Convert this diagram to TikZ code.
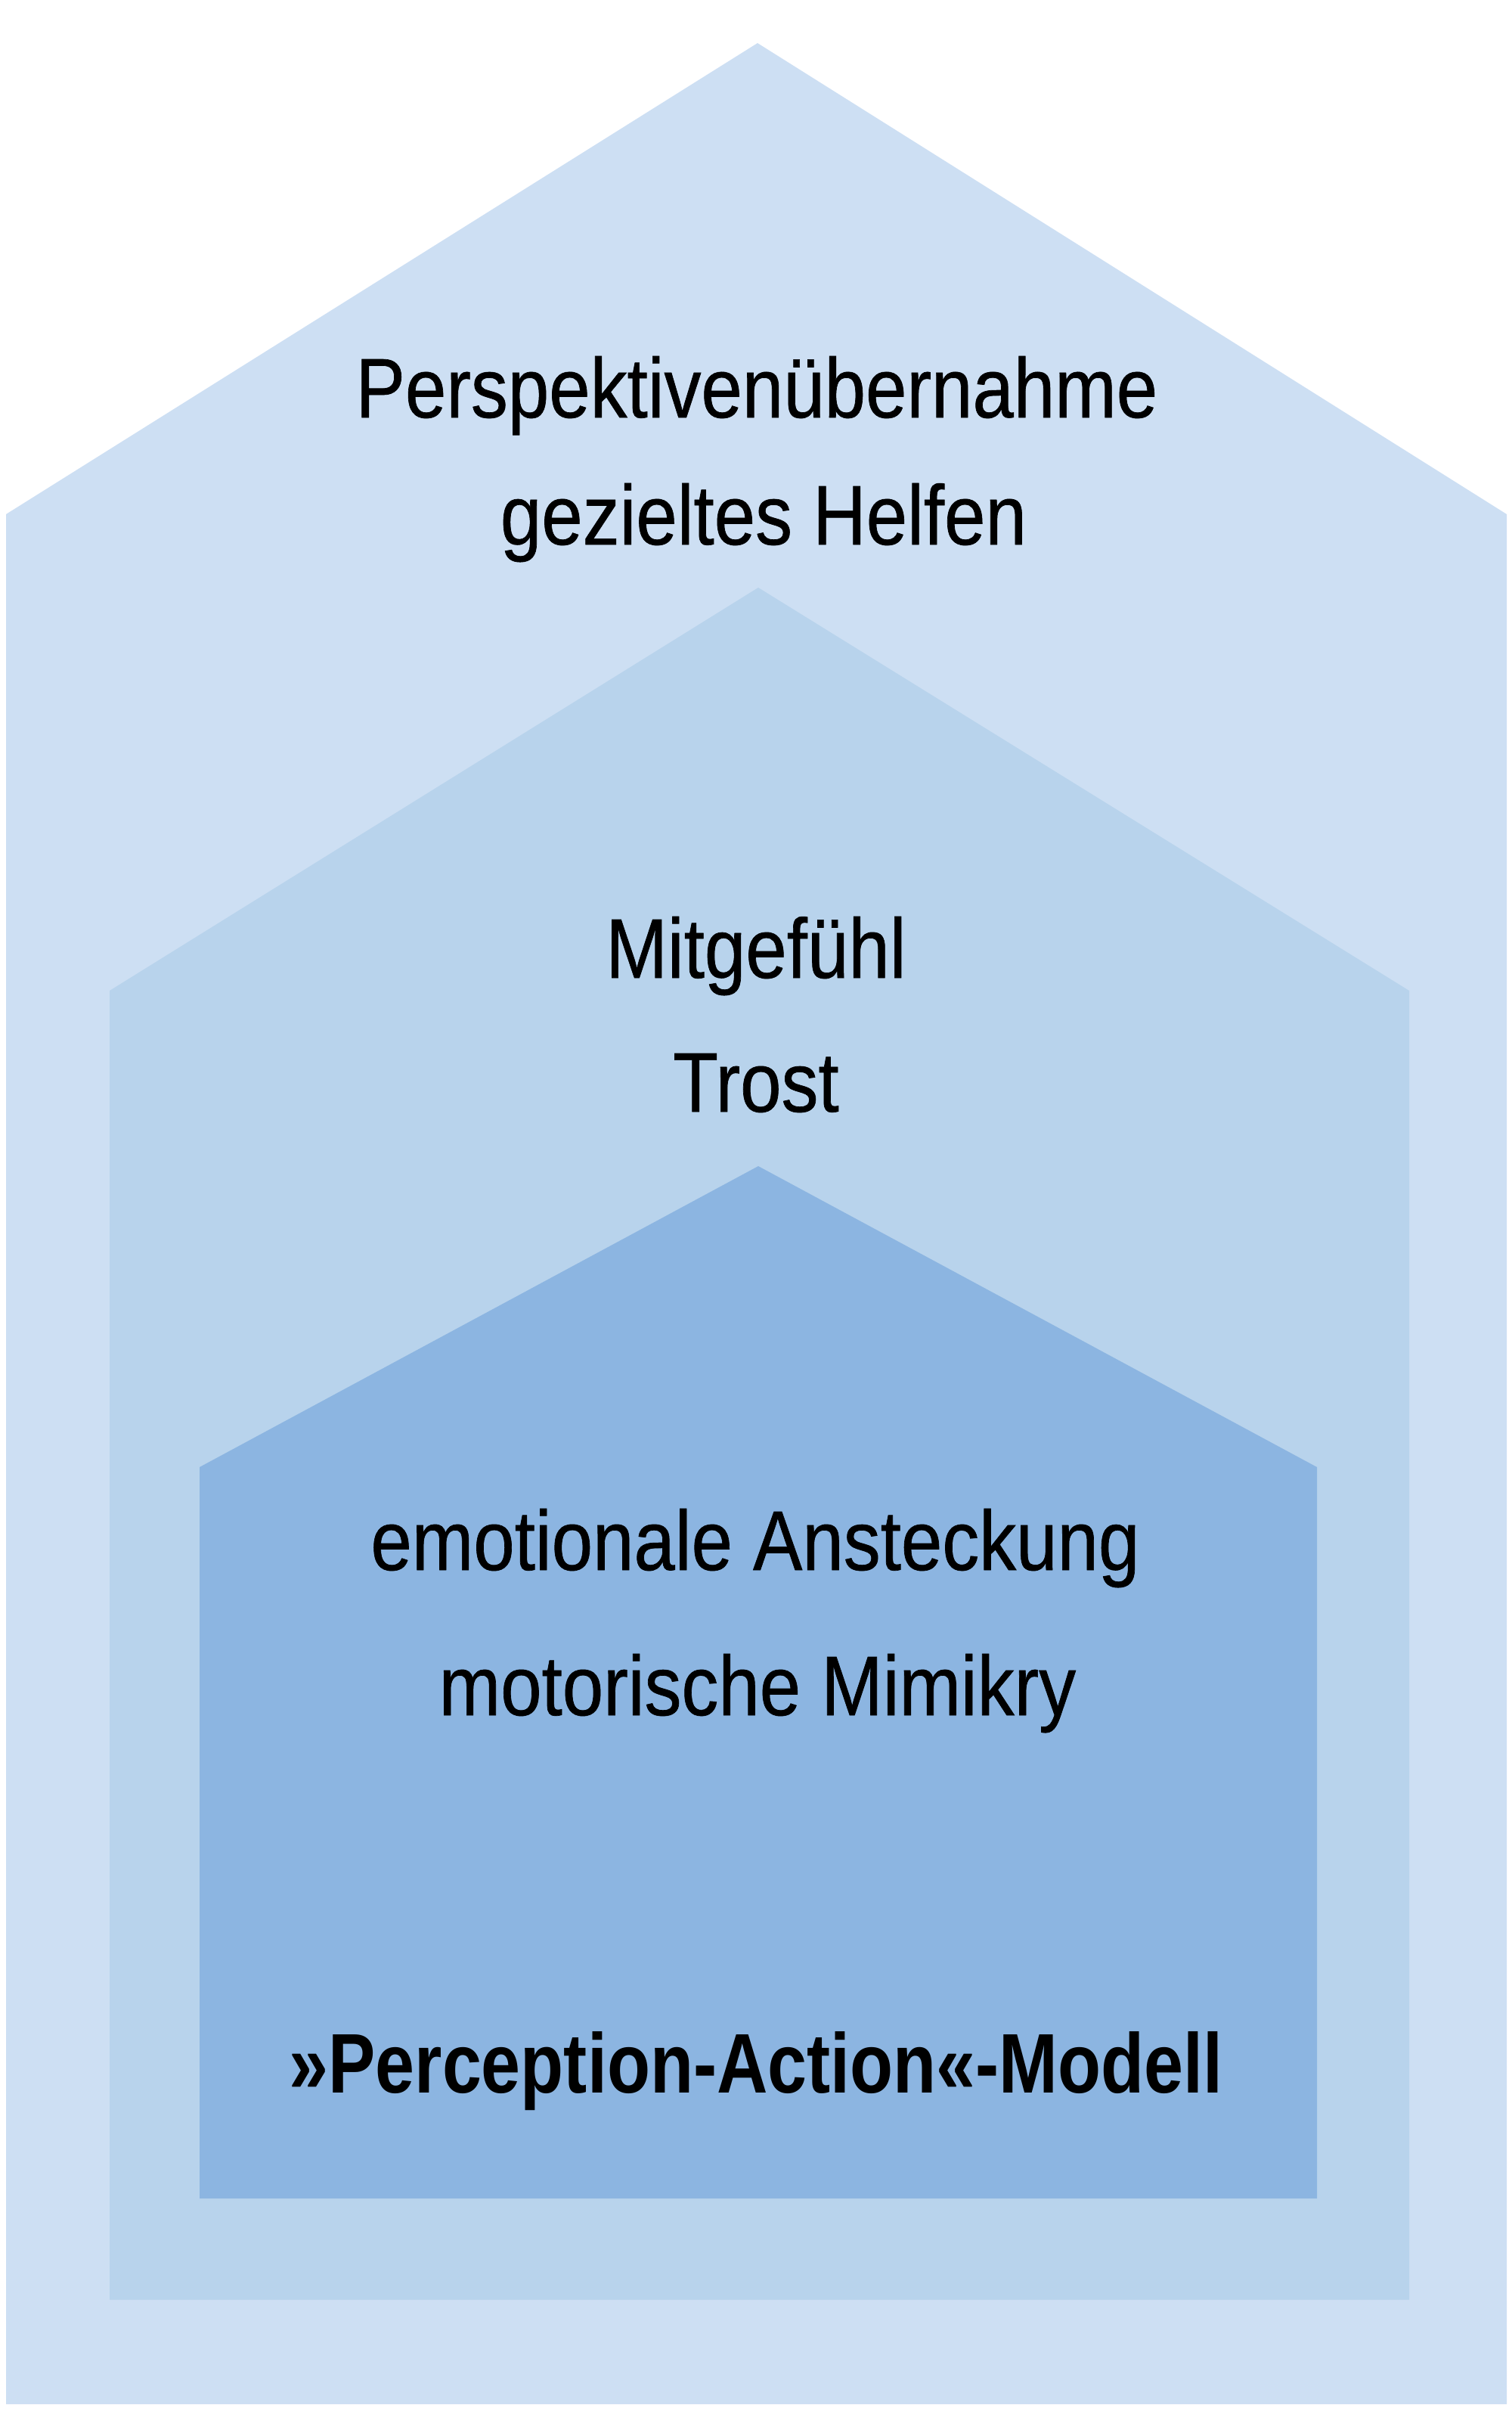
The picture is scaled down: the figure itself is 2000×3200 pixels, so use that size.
\documentclass[tikz,border=0pt]{standalone}
\usepackage{fontspec}
\setmainfont{Liberation Sans}[FakeStretch=0.875,FakeBold=0.6,BoldFeatures={FakeStretch=0.835,FakeBold=0}]
\definecolor{outerc}{HTML}{CDDFF3}
\definecolor{midc}{HTML}{B8D3EC}
\definecolor{innerc}{HTML}{8CB5E1}
\begin{document}
\begin{tikzpicture}[x=0.01cm,y=-0.01cm,
  lbl/.style={anchor=base,inner sep=0pt,font=\fontsize{31.8pt}{38pt}\selectfont,text=black},
  blbl/.style={lbl,font=\fontsize{31.8pt}{38pt}\selectfont\bfseries}]
\useasboundingbox (0,0) rectangle (2000,3200);
\fill[white] (0,0) rectangle (2000,3200);
% outer house
\fill[outerc] (8,680) -- (1002,57) -- (1993,680) -- (1993,3179) -- (8,3179) -- cycle;
% middle house
\fill[midc] (145,1310) -- (1003,777) -- (1864,1310) -- (1864,3041) -- (145,3041) -- cycle;
% inner house
\fill[innerc] (264,1940) -- (1003,1542) -- (1742,1940) -- (1742,2907) -- (264,2907) -- cycle;
% texts
\node[lbl] (t1) at (1001,552) {Perspektivenübernahme};
\node[lbl] (t2) at (1010,720) {gezieltes Helfen};
\node[lbl] (t3) at (1000,1293) {Mitgefühl};
\node[lbl] (t4) at (1000,1470) {Trost};
\node[lbl] (t5) at (999,2076) {emotionale Ansteckung};
\node[lbl] (t6) at (1002,2268) {motorische Mimikry};
\node[blbl] (t7) at (1000,2767) {»Perception-Action«-Modell};
\end{tikzpicture}
\end{document}
